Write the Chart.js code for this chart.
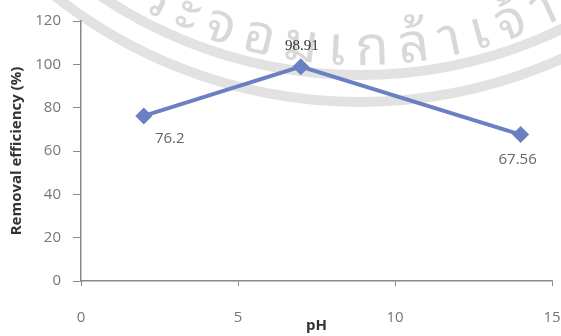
<!DOCTYPE html>
<html>
<head>
<meta charset="utf-8">
<script src="https://cdn.jsdelivr.net/npm/chart.js@4.4.1/dist/chart.umd.min.js"></script>
<style>
  html, body { margin: 0; padding: 0; background: #fff; }
  #wrap { width: 561px; height: 336px; position: relative; }
</style>
</head>
<body>
<div id="wrap"><canvas id="c"></canvas></div>
<script>
// pH tested and removal efficiency obtained at each pH
const phValues = [2, 7, 14];
const removalEfficiency = [76.2, 98.91, 67.56];

// axis ticks
const xTicks = [0, 5, 10, 15];
const yTicks = [0, 20, 40, 60, 80, 100, 120];

// faint seal text printed behind the plot
const sealText = 'พระจอมเกล้าเจ้าคุณ';

// value label placement relative to each point (dx, dy in px)
const labelOffsets = [[26, 23], [1, -21], [-3, 25]];
const labelFonts = ['15px "Open Sans"', '15px "Liberation Serif"', '15px "Open Sans"'];
const labelColors = ['#666666', '#333333', '#666666'];

const lineColor = '#6b80c2';
const axisColor = '#8c8884';
const tickColor = '#777777';
const titleColor = '#333333';

const sealPlugin = {
  id: 'seal',
  beforeDraw(chart) {
    const ctx = chart.ctx;
    const cx = 360, cy = -390;
    ctx.save();
    ctx.strokeStyle = '#e2e2e2';
    ctx.lineWidth = 10;
    [465, 492].forEach(r => {
      ctx.beginPath();
      ctx.arc(cx, cy, r, 0, Math.PI);
      ctx.stroke();
    });
    ctx.font = '54px "Noto Sans Thai Looped", "Loma", "Garuda", "Laksaman", "Norasi", "Noto Sans Thai", sans-serif';
    ctx.fillStyle = '#d8d8d8';
    ctx.textAlign = 'center';
    ctx.textBaseline = 'alphabetic';
    const r = 455;
    const spacing = 11;
    const clusters = sealText.match(/.[\u0E31\u0E34-\u0E3A\u0E47-\u0E4E]*/g);
    const widths = clusters.map(c => ctx.measureText(c).width + spacing);
    const anchor = clusters.indexOf('ะ');
    let before = 0;
    for (let i = 0; i < anchor; i++) before += widths[i];
    let a = Math.acos((182 - cx) / r) + (before + widths[anchor] / 2) / r;
    clusters.forEach((c, i) => {
      const mid = a - widths[i] / 2 / r;
      ctx.save();
      ctx.translate(cx + r * Math.cos(mid), cy + r * Math.sin(mid));
      ctx.rotate(mid - Math.PI / 2);
      ctx.fillText(c, 0, 0);
      ctx.restore();
      a -= widths[i] / r;
    });
    ctx.restore();
  }
};

const valueLabelPlugin = {
  id: 'valueLabels',
  afterDatasetsDraw(chart) {
    const ctx = chart.ctx;
    const pts = chart.getDatasetMeta(0).data;
    ctx.save();
    ctx.textAlign = 'center';
    ctx.textBaseline = 'middle';
    pts.forEach((p, i) => {
      ctx.font = labelFonts[i];
      ctx.fillStyle = labelColors[i];
      ctx.fillText(String(removalEfficiency[i]), p.x + labelOffsets[i][0], p.y + labelOffsets[i][1]);
    });
    ctx.restore();
  }
};

const titleFont = { family: 'Open Sans', size: 15, weight: 'bold' };

new Chart(document.getElementById('c'), {
  type: 'scatter',
  data: {
    datasets: [{
      data: phValues.map((x, i) => ({ x: x, y: removalEfficiency[i] })),
      showLine: true,
      borderColor: lineColor,
      backgroundColor: lineColor,
      borderWidth: 4,
      pointStyle: 'rectRot',
      pointRadius: 8.5,
      pointHoverRadius: 8.5,
      pointBorderWidth: 0,
      tension: 0
    }]
  },
  options: {
    responsive: true,
    maintainAspectRatio: false,
    animation: false,
    events: [],
    layout: { padding: { top: 19, right: 9, bottom: 0, left: 0 } },
    plugins: {
      legend: { display: false },
      tooltip: { enabled: false }
    },
    scales: {
      x: {
        type: 'linear',
        min: 0,
        max: 15,
        afterBuildTicks: s => { s.ticks = xTicks.map(v => ({ value: v })); },
        afterFit: s => { s.height = 55; },
        grid: { drawOnChartArea: false, drawTicks: true, tickLength: 5, color: axisColor },
        border: { color: axisColor, width: 1.5 },
        // tall line height drops the labels below the axis without widening the side padding
        ticks: { font: { family: 'Open Sans', size: 15, lineHeight: 4.27 }, color: tickColor, padding: 0, maxRotation: 0 },
        title: { display: true, text: 'pH', font: titleFont, color: titleColor, padding: { top: 0, bottom: 1 } }
      },
      y: {
        type: 'linear',
        min: 0,
        max: 120,
        afterBuildTicks: s => { s.ticks = yTicks.map(v => ({ value: v })); },
        afterFit: s => { s.width = 81; },
        grid: { drawOnChartArea: false, drawTicks: true, tickLength: 8, color: axisColor },
        border: { color: axisColor, width: 1.5 },
        ticks: { font: { family: 'Open Sans', size: 15 }, color: tickColor, padding: 12 },
        title: { display: true, text: 'Removal efficiency (%)', font: titleFont, color: titleColor, padding: { top: 8, bottom: 0 } }
      }
    }
  },
  plugins: [sealPlugin, valueLabelPlugin]
});
</script>
</body>
</html>
